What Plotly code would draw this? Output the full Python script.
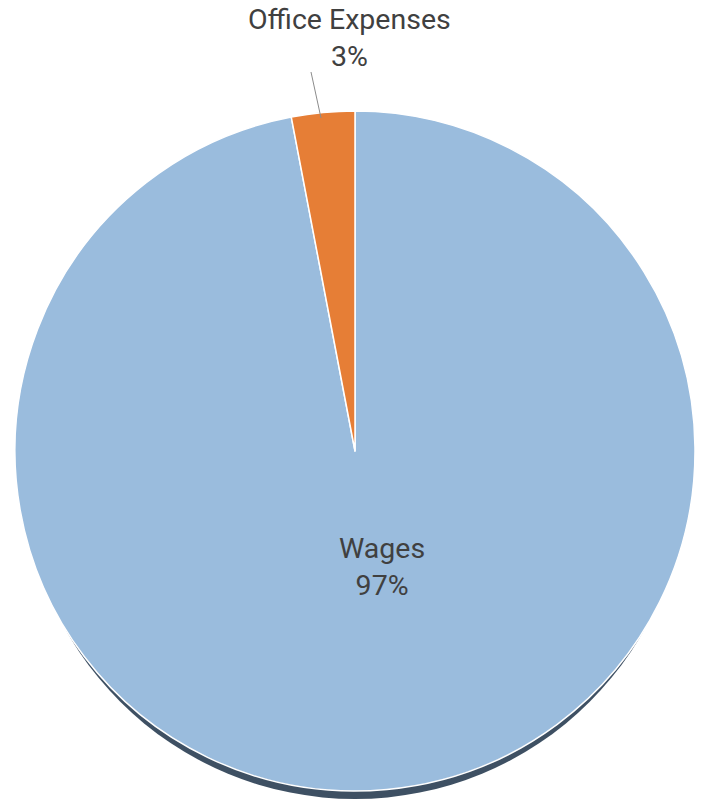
import plotly.graph_objects as go

labels = ["Wages", "Office Expenses"]
values = [97, 3]
colors = ["#9abcdd", "#e67e36"]

W, H = 708, 809
cx, cy, r = 355, 451, 340

def dom(cx, cy, r):
    return dict(x=[(cx - r) / W, (cx + r) / W], y=[1 - (cy + r) / H, 1 - (cy - r) / H])

def px(x):
    return x / W

def py(y):
    return 1 - y / H

total = sum(values)
pct = [f"{round(v * 100 / total)}%" for v in values]

fig = go.Figure()
# shadow
fig.add_trace(go.Pie(values=[1], labels=["shadow"], marker=dict(colors=["#3e5063"]),
                     textinfo="none", hoverinfo="skip", showlegend=False, sort=False,
                     domain=dom(cx, cy + 16, r - 8)))
fig.add_trace(go.Pie(labels=labels, values=values, sort=False, direction="clockwise",
                     rotation=0, marker=dict(colors=colors, line=dict(color="white", width=1.5)),
                     textinfo="none", showlegend=False, domain=dom(cx, cy, r)))

font = dict(family="Roboto", size=28.5, color="#404040")
fig.add_annotation(x=px(349), y=py(38), xref="paper", yref="paper", xanchor="center", yanchor="middle",
                   text=f"{labels[1]}<br>{pct[1]}", showarrow=False, font=font, align="center")
fig.add_annotation(x=px(382), y=py(567), xref="paper", yref="paper", xanchor="center", yanchor="middle",
                   text=f"{labels[0]}<br>{pct[0]}", showarrow=False, font=font, align="center")
fig.add_shape(type="line", xref="paper", yref="paper",
              x0=px(311), y0=py(72), x1=px(321), y1=py(118),
              line=dict(color="#8c8c8c", width=1))

fig.update_layout(width=W, height=H, margin=dict(l=0, r=0, t=0, b=0),
                  paper_bgcolor="white", plot_bgcolor="white")
fig.write_html("out.html", config={"displayModeBar": False},
               post_script="document.body.style.margin='0px';")
